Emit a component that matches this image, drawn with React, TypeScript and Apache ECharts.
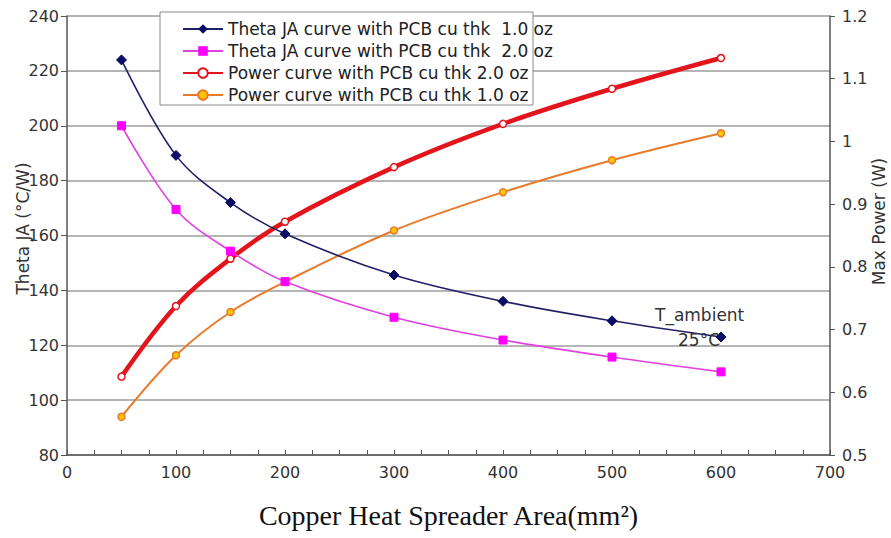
import React, { useEffect, useRef } from "react";
import * as echarts from "echarts";

const areas = [50, 100, 150, 200, 300, 400, 500, 600];
const theta1oz = [224, 189.2, 172, 160.6, 145.6, 136, 128.9, 123];
const theta2oz = [200, 169.5, 154.3, 143.2, 130.2, 121.9, 115.7, 110.3];
const power2oz = [0.625, 0.7375, 0.813, 0.872, 0.959, 1.028, 1.084, 1.133];
const power1oz = [0.561, 0.659, 0.728, 0.776, 0.858, 0.919, 0.97, 1.013];

const seriesNames = [
  "Theta JA curve with PCB cu thk  1.0 oz",
  "Theta JA curve with PCB cu thk  2.0 oz",
  "Power curve with PCB cu thk 2.0 oz",
  "Power curve with PCB cu thk 1.0 oz",
];

const FONT = "DejaVu Sans";

const pairs = (ys: number[]) => areas.map((x, i) => [x, ys[i]]);

export default function App() {
  const ref = useRef<HTMLDivElement>(null);
  useEffect(() => {
    if (!ref.current) return;
    const chart = echarts.init(ref.current, null, { renderer: "svg" });
    chart.setOption({
      animation: false,
      backgroundColor: "#ffffff",
      textStyle: { fontFamily: FONT },
      grid: { left: 67, right: 61, top: 16, bottom: 83, outerBoundsMode: "none", containLabel: false },
      legend: {
        orient: "vertical",
        left: 177,
        top: 15,
        itemWidth: 40,
        itemHeight: 12,
        itemGap: 4,
        z: 10,
        textStyle: { fontFamily: FONT, fontSize: 17, color: "#222", lineHeight: 18 },
        data: seriesNames,
      },
      graphic: [
        {
          type: "rect",
          z: 5,
          shape: { x: 160, y: 12, width: 373, height: 93 },
          style: { fill: "#ffffff", stroke: "#8a8a8a", lineWidth: 1 },
        },
        {
          type: "text",
          z: 10,
          x: 655,
          y: 306,
          style: { text: "T_ambient", fontFamily: FONT, fontSize: 17, fill: "#333" },
        },
        {
          type: "text",
          z: 10,
          x: 678,
          y: 331,
          style: { text: "25°C", fontFamily: FONT, fontSize: 17, fill: "#333" },
        },
      ],
      xAxis: {
        type: "value",
        min: 0,
        max: 700,
        interval: 100,
        name: "Copper Heat Spreader Area(mm²)",
        nameLocation: "middle",
        nameGap: 46,
        nameMoveOverlap: false,
        nameTextStyle: { fontFamily: "Liberation Serif", fontSize: 28, color: "#111" },
        axisLine: { show: true, lineStyle: { color: "#555", width: 1.5 } },
        axisTick: { show: true, inside: true, length: 5, lineStyle: { color: "#555" } },
        minorTick: { show: true, splitNumber: 4, length: 5, lineStyle: { color: "#555" } },
        splitLine: { show: false },
        axisLabel: { fontFamily: FONT, fontSize: 16, color: "#333", margin: 9 },
      },
      yAxis: [
        {
          type: "value",
          min: 80,
          max: 240,
          interval: 20,
          position: "left",
          name: "Theta JA (°C/W)",
          nameLocation: "middle",
          nameGap: 36,
          nameRotate: 90,
          nameMoveOverlap: false,
          nameTextStyle: { fontFamily: FONT, fontSize: 17, color: "#333", padding: [0, 0, 0, 14] },
          axisLine: { show: true, lineStyle: { color: "#555", width: 1.5 } },
          axisTick: { show: true, inside: false, length: 6, lineStyle: { color: "#555" } },
          splitLine: { show: true, lineStyle: { color: "#9c9c9c", width: 1.5 } },
          axisLabel: { fontFamily: FONT, fontSize: 16, color: "#333", margin: 8 },
        },
        {
          type: "value",
          min: 0.5,
          max: 1.2,
          interval: 0.1,
          position: "right",
          name: "Max Power (W)",
          nameLocation: "middle",
          nameGap: 40,
          nameRotate: 90,
          nameMoveOverlap: false,
          nameTextStyle: { fontFamily: FONT, fontSize: 17, color: "#333", padding: [0, 0, 0, 28] },
          axisLine: { show: true, lineStyle: { color: "#555", width: 1.5 } },
          axisTick: { show: true, inside: false, length: 5, lineStyle: { color: "#555" } },
          splitLine: { show: false },
          axisLabel: { fontFamily: FONT, fontSize: 16, color: "#333", margin: 12 },
        },
      ],
      series: [
        {
          name: seriesNames[0],
          type: "line",
          yAxisIndex: 0,
          data: pairs(theta1oz),
          smooth: 0.35,
          symbol: "diamond",
          symbolSize: 10,
          z: 3,
          lineStyle: { color: "#202068", width: 1.6 },
          itemStyle: { color: "#0c0c66", borderColor: "#0c0c66" },
        },
        {
          name: seriesNames[1],
          type: "line",
          yAxisIndex: 0,
          data: pairs(theta2oz),
          smooth: 0.35,
          symbol: "rect",
          symbolSize: 8,
          z: 3,
          lineStyle: { color: "#e040e0", width: 1.6 },
          itemStyle: { color: "#ff00ff", borderColor: "#ff00ff" },
        },
        {
          name: seriesNames[2],
          type: "line",
          yAxisIndex: 1,
          data: pairs(power2oz),
          smooth: 0.35,
          symbol: "circle",
          symbolSize: 7,
          showSymbol: true,
          z: 2,
          lineStyle: { color: "#e3141b", width: 4.5 },
          itemStyle: { color: "#ffffff", borderColor: "#e3141b", borderWidth: 1.5 },
        },
        {
          name: seriesNames[3],
          type: "line",
          yAxisIndex: 1,
          data: pairs(power1oz),
          smooth: 0.35,
          symbol: "circle",
          symbolSize: 7,
          z: 2,
          lineStyle: { color: "#e87a2a", width: 2 },
          itemStyle: { color: "#ffc400", borderColor: "#e87a2a", borderWidth: 1.5 },
        },
      ],
    });
    return () => chart.dispose();
  }, []);
  return (
    <div
      ref={ref}
      style={{ position: "fixed", left: 0, top: 0, width: 891, height: 538 }}
    />
  );
}
